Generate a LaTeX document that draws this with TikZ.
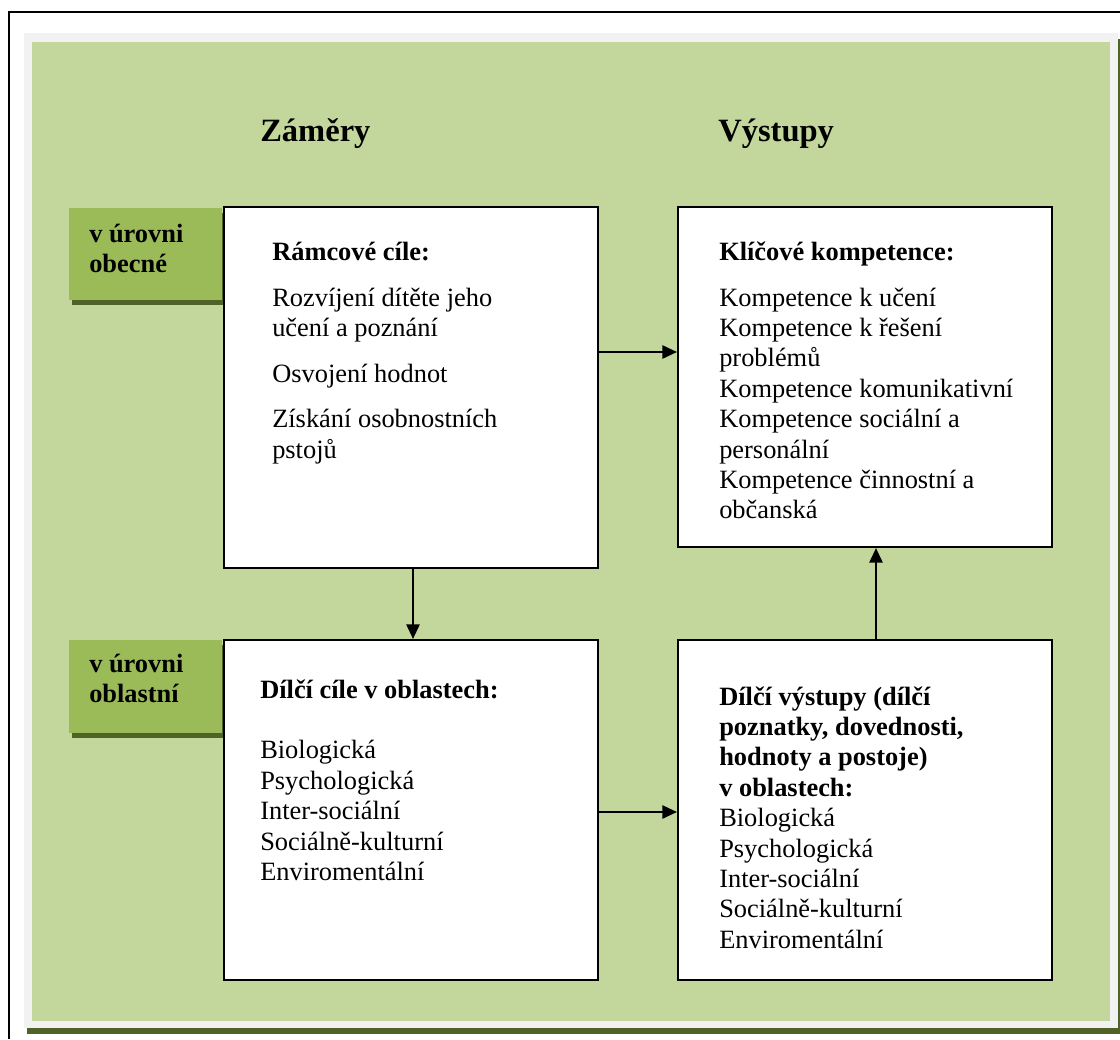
\documentclass[tikz,border=0pt]{standalone}
\usepackage{fontspec}
\setmainfont{Liberation Serif}
\definecolor{bggreen}{HTML}{C3D69B}
\definecolor{lblgreen}{HTML}{9BBB59}
\definecolor{darkolive}{HTML}{4F6228}
\definecolor{framegray}{HTML}{F2F2F2}
\usetikzlibrary{arrows.meta,shadows}
\tikzset{
  box/.style={draw=black,line width=1.6pt,fill=white,minimum width=280.5pt,inner sep=0pt},
  level/.style={fill=lblgreen,minimum width=114.75pt,inner sep=0pt,drop shadow={shadow xshift=2.5pt,shadow yshift=-3.5pt,fill=darkolive,opacity=1}},
  txt/.style={anchor=base west,inner sep=0pt,font=\fontsize{19.8pt}{22.8pt}\selectfont},
  head/.style={anchor=base west,inner sep=0pt,font=\fontsize{24.4pt}{28pt}\selectfont\bfseries},
  arr/.style={line width=1.4pt,-{Triangle[length=11pt,width=10pt]}}
}
\begin{document}
\begin{tikzpicture}[x=0.75pt,y=-0.75pt]
\useasboundingbox (0,0) rectangle (1120,1039);
% frame and background
\draw[line width=1.6pt] (9,1039) -- (9,12) -- (1120,12);
\fill[darkolive] (27,39) rectangle (1121,1034);
\fill[framegray] (24,33) rectangle (1118,1028);
\fill[bggreen] (32,42) rectangle (1110,1021);
\node[head] (zamery) at (260,141) {Záměry};
\node[head] (vystupy) at (718,141) {Výstupy};
% levels
\node[level,minimum height=69pt] (obecna) at (145.5,254) {};
\node[level,minimum height=69.75pt] (oblastni) at (145.5,686.5) {};
\node[txt] (obecnatxt) at (89,242) {\parbox[t]{100pt}{\bfseries v úrovni\\obecné}};
\node[txt] (oblastnitxt) at (89,672) {\parbox[t]{100pt}{\bfseries v úrovni\\oblastní}};
% boxes
\node[box,minimum height=270.75pt] (ramcove) at (411,387.5) {};
\node[box,minimum height=255pt] (klicove) at (865,377) {};
\node[box,minimum height=255pt] (dilcicile) at (411,810) {};
\node[box,minimum height=255pt] (dilcivystupy) at (865,810) {};
\node[txt] (ramcovetxt) at (272,260) {\parbox[t]{250pt}{\raggedright
  \textbf{Rámcové cíle:}\\[11.7pt]
  Rozvíjení dítěte jeho\\učení a poznání\\[11.5pt]
  Osvojení hodnot\\[11.5pt]
  Získání osobnostních\\pstojů}};
\node[txt] (klicovetxt) at (719,260) {\parbox[t]{300pt}{\raggedright
  \textbf{Klíčové kompetence:}\\[11.7pt]
  Kompetence k učení\\Kompetence k řešení\\problémů\\
  Kompetence komunikativní\\Kompetence sociální a\\personální\\
  Kompetence činnostní a\\občanská}};
\node[txt] (dilcicieltxt) at (260,698) {\parbox[t]{300pt}{\raggedright
  \textbf{Dílčí cíle v oblastech:}\\[\baselineskip]
  Biologická\\Psychologická\\Inter-sociální\\Sociálně-kulturní\\Enviromentální}};
\node[txt] (dilcivystupytxt) at (719,705) {\parbox[t]{300pt}{\raggedright
  \textbf{Dílčí výstupy (dílčí\\poznatky, dovednosti,\\hodnoty a postoje)\\v oblastech:}\\
  Biologická\\Psychologická\\Inter-sociální\\Sociálně-kulturní\\Enviromentální}};
% arrows
\draw[arr] (ramcove.east |- 0,352) -- (klicove.west |- 0,352);
\draw[arr] (ramcove.south -| 413,0) -- (dilcicile.north -| 413,0);
\draw[arr] (dilcicile.east |- 0,812) -- (dilcivystupy.west |- 0,812);
\draw[arr] (dilcivystupy.north -| 876,0) -- (klicove.south -| 876,0);
\end{tikzpicture}
\end{document}
